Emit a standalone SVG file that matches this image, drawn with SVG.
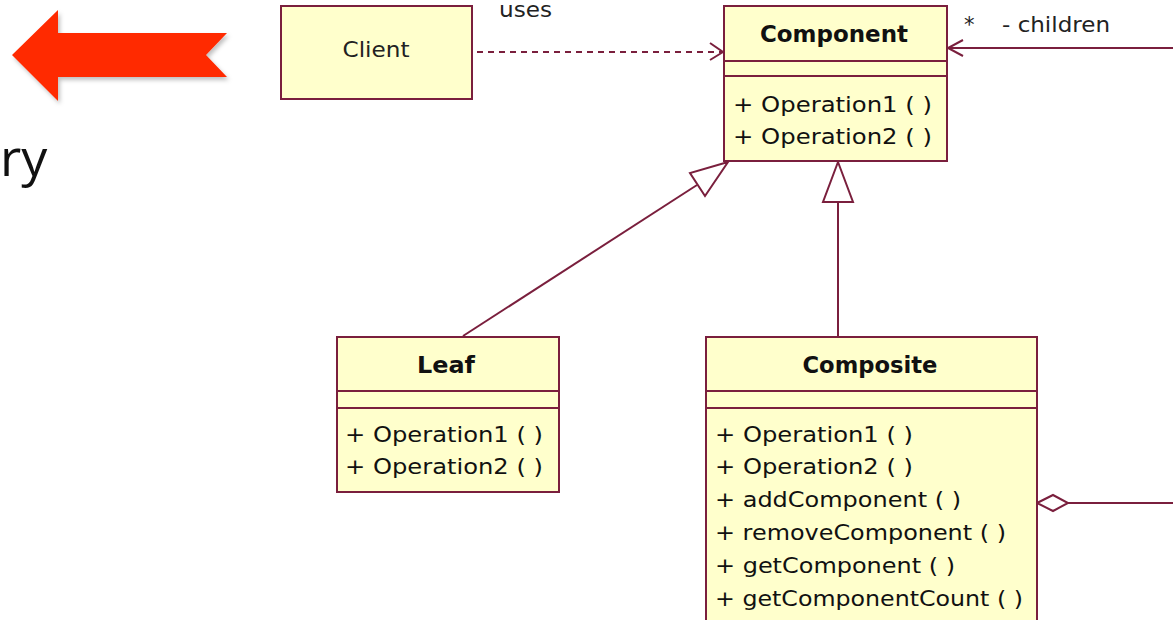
<svg xmlns="http://www.w3.org/2000/svg" width="1173" height="620" viewBox="0 0 1173 620">
  <style>
    .box { fill: #FFFFCC; stroke: #7A1F3D; stroke-width: 2; }
    .sep { stroke: #7A1F3D; stroke-width: 2; }
    .title { font-family: "DejaVu Sans", Verdana, sans-serif; font-weight: bold; font-size: 23px; fill: #111; text-anchor: middle; }
    .op { font-family: "DejaVu Sans", Verdana, sans-serif; font-size: 22px; fill: #111; }
    .lbl { font-family: "DejaVu Sans", Verdana, sans-serif; font-size: 21px; fill: #222; }
    .edge { fill: none; stroke: #7A1F3D; stroke-width: 2; }
    .dash { stroke-dasharray: 6 5; }
    .hollow { fill: #fff; stroke: #7A1F3D; stroke-width: 2; stroke-linejoin: miter; }
  </style>
  <defs>
    <filter id="softShadow" x="-10%" y="-20%" width="130%" height="150%">
      <feDropShadow dx="2" dy="3" stdDeviation="2" flood-color="#000" flood-opacity="0.25"/>
    </filter>
  </defs>

  <rect width="1173" height="620" fill="#fff"/>

  <!-- slide decoration: red back arrow and heading fragment -->
  <polygon points="12,55 58,10 58,33 227,33 206,55 227,77 58,77 58,101" fill="#FF2A00" filter="url(#softShadow)"/>
  <text x="0" y="176" font-family="'Open Sans', sans-serif" font-size="52" fill="#111">ry</text>

  <!-- connectors -->
  <g id="connectors">
    <!-- Client uses Component -->
    <line class="edge dash" x1="477" y1="52" x2="722" y2="52"/>
    <polyline class="edge" points="710,43 723,52 710,60"/>
    <text class="lbl" x="499" y="17" textLength="53" lengthAdjust="spacingAndGlyphs">uses</text>

    <!-- children association -->
    <line class="edge" x1="948" y1="48" x2="1173" y2="48"/>
    <polyline class="edge" points="963,40 948,48 963,56"/>
    <text class="lbl" x="964" y="32">*</text>
    <text class="lbl" x="1002" y="32" textLength="108" lengthAdjust="spacingAndGlyphs">- children</text>

    <!-- Leaf generalization -->
    <line class="edge" x1="463" y1="336" x2="697" y2="185"/>
    <polygon class="hollow" points="728,162 690,173 705,196"/>

    <!-- Composite generalization -->
    <line class="edge" x1="838" y1="337" x2="838" y2="202"/>
    <polygon class="hollow" points="838,162 823,202 853,202"/>

    <!-- aggregation of children -->
    <line class="edge" x1="1068" y1="503" x2="1173" y2="503"/>
    <polygon class="hollow" points="1037,503 1053,495 1068,503 1053,511"/>
  </g>

  <!-- Client -->
  <g id="client">
    <rect class="box" x="281" y="6" width="191" height="93"/>
    <text class="lbl" x="376" y="57" text-anchor="middle" font-size="22" textLength="67" lengthAdjust="spacingAndGlyphs">Client</text>
  </g>

  <!-- Component -->
  <g id="component">
    <rect class="box" x="724" y="6" width="223" height="155"/>
    <line class="sep" x1="724" y1="61" x2="947" y2="61"/>
    <line class="sep" x1="724" y1="76" x2="947" y2="76"/>
    <text class="title" x="834" y="42" textLength="148" lengthAdjust="spacingAndGlyphs">Component</text>
    <text class="op" x="733" y="112" textLength="199" lengthAdjust="spacingAndGlyphs">+ Operation1 (  )</text>
    <text class="op" x="733" y="144" textLength="199" lengthAdjust="spacingAndGlyphs">+ Operation2 (  )</text>
  </g>

  <!-- Leaf -->
  <g id="leaf">
    <rect class="box" x="337" y="337" width="222" height="155"/>
    <line class="sep" x1="337" y1="391" x2="559" y2="391"/>
    <line class="sep" x1="337" y1="408" x2="559" y2="408"/>
    <text class="title" x="446" y="373" textLength="58" lengthAdjust="spacingAndGlyphs">Leaf</text>
    <text class="op" x="345" y="442" textLength="198" lengthAdjust="spacingAndGlyphs">+ Operation1 (  )</text>
    <text class="op" x="345" y="474" textLength="198" lengthAdjust="spacingAndGlyphs">+ Operation2 (  )</text>
  </g>

  <!-- Composite -->
  <g id="composite">
    <rect class="box" x="706" y="337" width="331" height="300"/>
    <line class="sep" x1="706" y1="391" x2="1037" y2="391"/>
    <line class="sep" x1="706" y1="408" x2="1037" y2="408"/>
    <text class="title" x="870" y="373" textLength="135" lengthAdjust="spacingAndGlyphs">Composite</text>
    <text class="op" x="715" y="442" textLength="198" lengthAdjust="spacingAndGlyphs">+ Operation1 (  )</text>
    <text class="op" x="715" y="474" textLength="198" lengthAdjust="spacingAndGlyphs">+ Operation2 (  )</text>
    <text class="op" x="715" y="507" textLength="246" lengthAdjust="spacingAndGlyphs">+ addComponent (  )</text>
    <text class="op" x="715" y="540" textLength="291" lengthAdjust="spacingAndGlyphs">+ removeComponent (  )</text>
    <text class="op" x="715" y="573" textLength="240" lengthAdjust="spacingAndGlyphs">+ getComponent (  )</text>
    <text class="op" x="715" y="606" textLength="308" lengthAdjust="spacingAndGlyphs">+ getComponentCount (  )</text>
  </g>
</svg>
